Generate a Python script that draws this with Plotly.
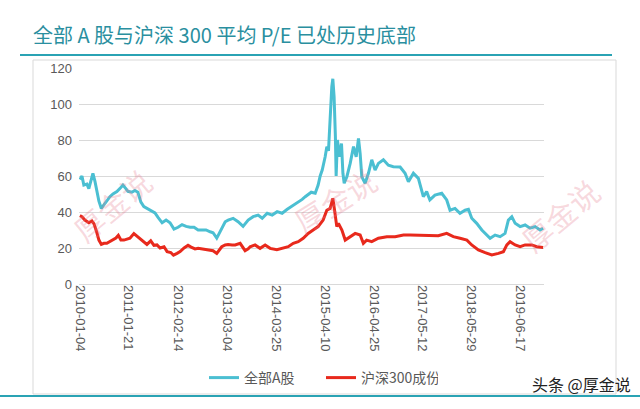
import plotly.graph_objects as go

# ---- data ----
dates_all = [
    "2010-01-04", "2010-01-20", "2010-02-04", "2010-02-28", "2010-03-15", "2010-03-31", "2010-04-16",
    "2010-05-02", "2010-05-17", "2010-06-02", "2010-06-21", "2010-07-11", "2010-07-27", "2010-08-27",
    "2010-09-20", "2010-10-21", "2010-11-13", "2010-12-07", "2010-12-30", "2011-01-15", "2011-02-15",
    "2011-03-11", "2011-04-03", "2011-04-27", "2011-05-20", "2011-06-13", "2011-07-15", "2011-08-15",
    "2011-09-08", "2011-10-10", "2011-11-10", "2011-12-11", "2012-01-11", "2012-02-12", "2012-03-14",
    "2012-04-15", "2012-05-16", "2012-06-16", "2012-07-18", "2012-08-18", "2012-09-18", "2012-10-20",
    "2012-11-12", "2012-12-11", "2013-01-06", "2013-01-30", "2013-02-15", "2013-03-10", "2013-04-18",
    "2013-05-27", "2013-07-05", "2013-08-14", "2013-09-22", "2013-10-31", "2013-12-02", "2014-01-10",
    "2014-02-18", "2014-03-29", "2014-05-07", "2014-06-16", "2014-07-25", "2014-09-02", "2014-10-11",
    "2014-11-04", "2014-11-27", "2014-12-21", "2015-01-21", "2015-02-13", "2015-03-01", "2015-03-17",
    "2015-04-09", "2015-04-22", "2015-05-05", "2015-05-18", "2015-05-31", "2015-06-08", "2015-06-18",
    "2015-06-28", "2015-07-04", "2015-07-14", "2015-07-30", "2015-08-15", "2015-08-26", "2015-09-05",
    "2015-09-26", "2015-10-22", "2015-11-17", "2015-12-08", "2015-12-26", "2016-01-08", "2016-01-21",
    "2016-02-16", "2016-03-13", "2016-04-08", "2016-05-04", "2016-05-30", "2016-07-08", "2016-08-16",
    "2016-09-24", "2016-11-16", "2016-12-25", "2017-01-20", "2017-02-28", "2017-04-08", "2017-05-17",
    "2017-06-12", "2017-07-07", "2017-08-16", "2017-10-08", "2017-11-16", "2017-12-12", "2018-01-20",
    "2018-02-28", "2018-04-09", "2018-05-05", "2018-05-31", "2018-07-09", "2018-08-18", "2018-09-26",
    "2018-10-22", "2018-11-30", "2019-01-08", "2019-02-16", "2019-03-14", "2019-04-10", "2019-05-06",
    "2019-06-14", "2019-07-23", "2019-08-31", "2019-10-09", "2019-11-17", "2019-12-11",
]
pe_all = [
    58, 60, 55, 55.5, 53, 58, 61.5,
    57, 52, 46, 42, 44, 46, 48.5,
    50, 51.3, 53, 55, 53, 51.5, 51,
    52, 51, 45.5, 43, 42, 40.5, 39.5,
    37, 34, 35.5, 34, 30.5, 31.5, 33,
    32, 31.5, 31.5, 30, 29.8, 30, 29,
    28.5, 25.5, 29, 32, 34.6, 35.5, 36.5,
    34.6, 32, 35.5, 37.4, 38.3, 36.5, 39.3,
    38.3, 40.2, 39.3, 41.5, 43.3, 45, 47,
    48.5, 50, 51, 50.4, 55, 60, 63.3,
    70.7, 76.3, 74, 94.8, 109.6, 114, 104,
    82, 60, 80, 70.7, 78, 61.5, 56,
    59.6, 67, 76.3, 70.7, 80.9, 72.6, 59.6,
    56, 61.5, 69, 63.3, 67, 69, 66,
    65.2, 65, 61.5, 56.8, 61.5, 58.7, 48.5,
    51.3, 46.7, 49.4, 50.4, 46.7, 41, 42,
    39.3, 41, 41.5, 36.5, 33.7, 30, 27.2,
    25.4, 27.2, 26.3, 28.1, 35.5, 37.4, 33.7,
    31.9, 32.8, 31, 31.9, 30, 31,
]

dates_hs300 = [
    "2010-01-04", "2010-01-20", "2010-02-12", "2010-03-15", "2010-04-08", "2010-04-24", "2010-05-15",
    "2010-06-02", "2010-06-21", "2010-07-11", "2010-08-03", "2010-08-27", "2010-09-20", "2010-10-13",
    "2010-11-01", "2010-11-21", "2010-12-15", "2011-01-07", "2011-01-31", "2011-03-03", "2011-03-27",
    "2011-04-19", "2011-05-20", "2011-06-13", "2011-07-13", "2011-08-07", "2011-08-31", "2011-09-24",
    "2011-10-25", "2011-11-18", "2011-12-17", "2012-01-07", "2012-02-04", "2012-02-28", "2012-03-30",
    "2012-04-30", "2012-05-24", "2012-06-24", "2012-07-18", "2012-08-18", "2012-09-18", "2012-10-20",
    "2012-11-12", "2012-12-11", "2012-12-29", "2013-01-19", "2013-02-15", "2013-03-10", "2013-04-10",
    "2013-05-04", "2013-06-12", "2013-07-05", "2013-07-21", "2013-08-14", "2013-08-29", "2013-10-07",
    "2013-11-15", "2013-12-25", "2014-02-02", "2014-03-27", "2014-05-16", "2014-06-24", "2014-08-02",
    "2014-09-10", "2014-10-19", "2014-11-27", "2015-01-05", "2015-02-13", "2015-03-24", "2015-04-22",
    "2015-05-18", "2015-06-08", "2015-06-25", "2015-07-09", "2015-07-22", "2015-08-18", "2015-09-13",
    "2015-10-22", "2015-11-30", "2016-01-08", "2016-02-02", "2016-02-28", "2016-04-08", "2016-05-30",
    "2016-08-04", "2016-10-08", "2016-12-12", "2017-02-02", "2017-04-21", "2017-07-07", "2017-09-11",
    "2017-11-16", "2018-01-07", "2018-02-28", "2018-04-23", "2018-05-31", "2018-07-22", "2018-09-13",
    "2018-11-04", "2018-12-26", "2019-02-03", "2019-03-02", "2019-03-27", "2019-05-06", "2019-06-14",
    "2019-07-23", "2019-09-13", "2019-10-23", "2019-12-11",
]
pe_hs300 = [
    38, 37.4, 35.5, 34, 35, 33.5, 29,
    24.4, 22, 22.6, 22.6, 23.5, 24.4, 25.5,
    27, 24.4, 24.4, 25, 25.4, 28, 26.5,
    25, 23.5, 22, 24, 21.5, 21.7, 20,
    20.7, 18, 17.5, 16, 17, 18, 20,
    21.5, 20.5, 19.5, 19.8, 19.4, 19, 18.8,
    18.5, 17, 19, 20.7, 21.7, 22, 21.7,
    21.7, 22.6, 20.5, 18.5, 19.5, 20.7, 21.7,
    19.8, 21.7, 19.8, 19, 19.8, 20.7, 22.6,
    23.5, 25.4, 28.1, 30, 31.9, 35.5, 41,
    42, 47.6, 39.3, 31.9, 33.7, 30, 24.4,
    26.3, 28.1, 27.2, 22.6, 24.4, 23.5, 25.4,
    26.3, 26.3, 27.2, 27.2, 27.2, 26.8, 26.8,
    28.1, 26.3, 25.4, 24.4, 21.7, 18.9, 17.4,
    16.1, 17, 17.9, 21.7, 23.5, 21.7, 20.7,
    21.7, 21.7, 20.7, 20.3,
]

x_tick_dates = ["2010-01-04", "2011-01-21", "2012-02-14", "2013-03-04", "2014-03-25",
                "2015-04-10", "2016-04-25", "2017-05-12", "2018-05-29", "2019-06-17"]
y_ticks = [0, 20, 40, 60, 80, 100, 120]

series_names = ["全部A股", "沪深300成份"]
title_text = "全部 A 股与沪深 300 平均 P/E 已处历史底部"
source_text = "头条 @厚金说"
watermark_text = "厚金说"

# ---- styling ----
W, H = 640, 409
L, R, T, B = 79, 96, 68, 125
PW, PH = W - L - R, H - T - B


def px(xp):
    return (xp - L) / PW


def py(yp):
    return (H - B - yp) / PH


FONT = "Liberation Sans, Noto Sans CJK SC, sans-serif"
CJK = "Noto Sans CJK SC, sans-serif"
GRAY = "#595959"
BLUE = "#4BBFD2"
RED = "#E8291C"
TEAL = "#2AA3B4"

fig = go.Figure()
fig.add_trace(go.Scatter(x=dates_all, y=pe_all, mode="lines", name=series_names[0],
                         line=dict(color=BLUE, width=3)))
fig.add_trace(go.Scatter(x=dates_hs300, y=pe_hs300, mode="lines", name=series_names[1],
                         line=dict(color=RED, width=3)))

shapes = [
    dict(type="rect", xref="paper", yref="paper", x0=px(33), x1=px(616), y0=py(394), y1=py(60),
         line=dict(color="#d9d9d9", width=1), layer="below"),
    dict(type="line", xref="paper", yref="paper", x0=px(20), x1=px(612), y0=py(55), y1=py(55),
         line=dict(color=TEAL, width=2)),
    dict(type="line", xref="paper", yref="paper", x0=px(0), x1=px(640), y0=py(396), y1=py(396),
         line=dict(color=TEAL, width=2)),
]

annotations = [
    dict(text=source_text, xref="paper", yref="paper", x=px(633), y=py(384), xanchor="right",
         yanchor="middle", showarrow=False, font=dict(family=CJK, size=16, color="#222222")),
]

wm_positions = [(112, 205, -40), (335, 200, -32), (560, 215, -40)]
for (wx, wy, ang) in wm_positions:
    annotations.append(dict(text=watermark_text, xref="paper", yref="paper", x=px(wx), y=py(wy),
                            xanchor="center", yanchor="middle", showarrow=False, textangle=ang,
                            font=dict(family=CJK, size=30, color="rgba(230,120,140,0.28)")))

fig.update_layout(
    width=W, height=H,
    margin=dict(l=L, r=R, t=T, b=B, pad=0),
    paper_bgcolor="white", plot_bgcolor="white",
    font=dict(family=FONT, size=13, color=GRAY),
    title=dict(text=title_text, x=33 / W, xanchor="left", y=1 - 36 / H, yanchor="middle",
               font=dict(family=CJK, size=20, color="#2A8FA0")),
    showlegend=True,
    legend=dict(orientation="h", x=px(204), xanchor="left", y=py(378), yanchor="middle",
                font=dict(family=CJK, size=14, color=GRAY), bgcolor="rgba(0,0,0,0)",
                itemwidth=30, entrywidth=72, traceorder="normal"),
    xaxis=dict(type="date", range=["2009-12-28", "2019-12-18"], tickvals=x_tick_dates,
               ticktext=x_tick_dates, tickangle=90, showgrid=False, zeroline=False,
               showline=False, ticks="", tickfont=dict(family=FONT, size=13, color=GRAY)),
    yaxis=dict(range=[0, 120], tickvals=y_ticks, showgrid=True, gridcolor="#d9d9d9",
               gridwidth=1, zeroline=True, zerolinecolor="#d9d9d9", zerolinewidth=1,
               showline=False, ticks="", ticklabelstandoff=6,
               tickfont=dict(family=FONT, size=13, color=GRAY)),
    shapes=shapes,
    annotations=annotations,
)

fig.write_html("out.html", config={"displayModeBar": False},
               post_script="document.body.style.margin='0';document.body.style.overflow='hidden';")
